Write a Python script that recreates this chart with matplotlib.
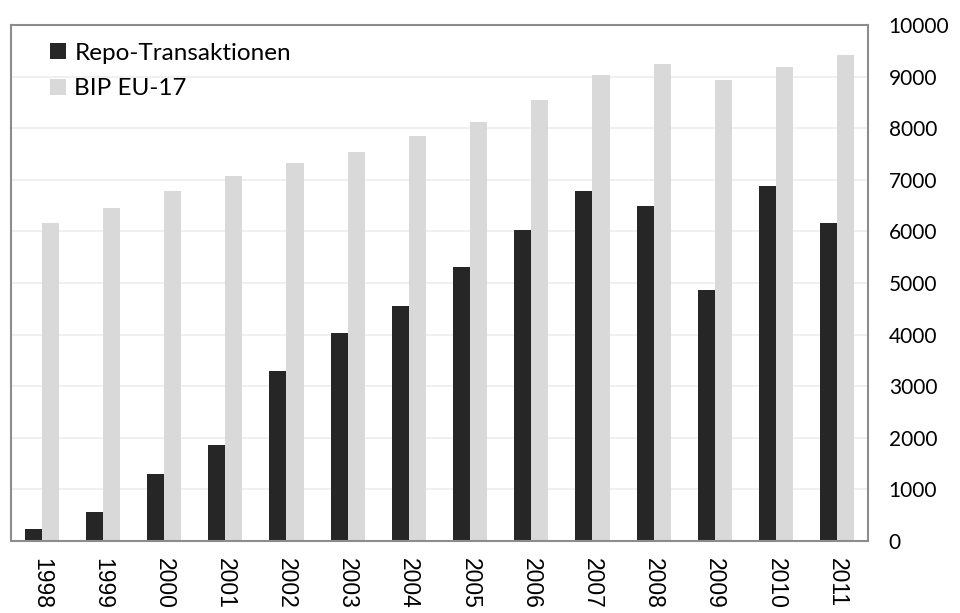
import matplotlib
matplotlib.use("Agg")
import matplotlib.pyplot as plt
import numpy as np

# --- Datos ---
years = ["1998", "1999", "2000", "2001", "2002", "2003", "2004",
         "2005", "2006", "2007", "2008", "2009", "2010", "2011"]
repo = [230, 560, 1300, 1860, 3290, 4040, 4560,
        5310, 6020, 6780, 6500, 4860, 6890, 6160]
bip = [6160, 6450, 6780, 7070, 7320, 7540, 7850,
       8130, 8550, 9030, 9250, 8930, 9180, 9430]
y_ticks = [0, 1000, 2000, 3000, 4000, 5000, 6000, 7000, 8000, 9000, 10000]

DARK = "#262626"
LIGHT = "#d9d9d9"

fig = plt.figure(figsize=(9.6, 6.13), dpi=100)
ax = fig.add_axes([0.0115, 0.1175, 0.8925, 0.8415])

x = np.arange(len(years))
w = 0.28
ax.bar(x - w / 2, repo, width=w, color=DARK, label="Repo-Transaktionen", zorder=2)
ax.bar(x + w / 2, bip, width=w, color=LIGHT, label="BIP EU-17", zorder=2)

ax.set_xlim(-0.5, len(years) - 0.5)
ax.set_ylim(0, 10000)
ax.set_yticks(y_ticks)
ax.yaxis.tick_right()
ax.tick_params(axis="y", length=0, pad=15, labelsize=15)
for lab in ax.get_yticklabels():
    lab.set_fontfamily("Lato")

ax.set_xticks(x)
ax.set_xticklabels(years, rotation=-90, fontsize=16.5, family="Liberation Sans")
ax.tick_params(axis="x", length=0, pad=12.5)

ax.grid(axis="y", color="#eeeeee", linewidth=1.2, zorder=0)
ax.set_axisbelow(True)
for sp in ax.spines.values():
    sp.set_color("#8c8c8c")
    sp.set_linewidth(1.5)

leg = ax.legend(loc="upper left", bbox_to_anchor=(0.02, 1.008), frameon=False,
                handlelength=0.65, handleheight=0.65, handletextpad=0.35,
                labelspacing=0.6, prop={"family": "Lato", "size": 17.5})

fig.savefig("out.png", dpi=100)
